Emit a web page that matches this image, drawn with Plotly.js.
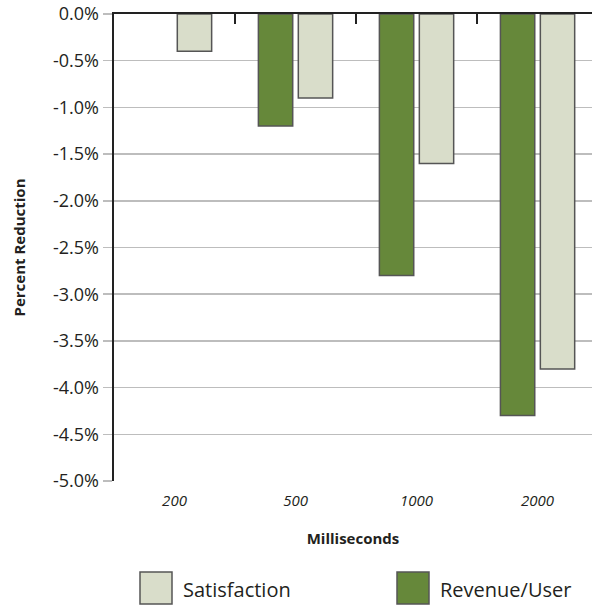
<!DOCTYPE html>
<html>
<head>
<meta charset="utf-8">
<script src="https://cdn.plot.ly/plotly-3.0.1.min.js"></script>
<style>
html,body{margin:0;padding:0;background:#fff;overflow:hidden;}
#chart{width:592px;height:606px;}
</style>
</head>
<body>
<div id="chart"></div>
<script>
var categories = ["200", "500", "1000", "2000"];
var revenueUser = [null, -1.2, -2.8, -4.3];
var satisfaction = [-0.4, -0.9, -1.6, -3.8];
var seriesNames = ["Revenue/User", "Satisfaction"];
var yTickVals = [0, -0.5, -1, -1.5, -2, -2.5, -3, -3.5, -4, -4.5, -5];
var yTickText = ["0.0%", "-0.5%", "-1.0%", "-1.5%", "-2.0%", "-2.5%", "-3.0%", "-3.5%", "-4.0%", "-4.5%", "-5.0%"];

var GREEN = "#66883a";
var GRAY = "#d9ddca";
var EDGE = "#555555";
var FONT = "Open Sans, sans-serif";

var traces = [
  {type: "bar", name: seriesNames[0], x: categories, y: revenueUser,
   marker: {color: GREEN, line: {color: EDGE, width: 1.5}}, hoverinfo: "x+y"},
  {type: "bar", name: seriesNames[1], x: categories, y: satisfaction,
   marker: {color: GRAY, line: {color: EDGE, width: 1.5}}, hoverinfo: "x+y"},
  {type: "scatter", mode: "none", x: categories, y: categories.map(function(){return null;}),
   xaxis: "x2", yaxis: "y", showlegend: false, hoverinfo: "skip"}
];

var legendOrder = [1, 0];
var legendColors = [GREEN, GRAY];
var legendBoxX = [140, 397];
var shapes = [], annotations = [];
legendOrder.forEach(function(idx, k){
  var x0 = legendBoxX[k];
  shapes.push({type: "rect", xref: "paper", yref: "paper",
    x0: (x0 - 114) / 478, x1: (x0 + 32 - 114) / 478,
    y0: -(572 - 481) / 467, y1: -(604 - 481) / 467,
    fillcolor: legendColors[idx], line: {color: EDGE, width: 1.5}});
  annotations.push({xref: "paper", yref: "paper",
    x: (x0 + 41 - 114) / 478, y: -(589 - 481) / 467,
    xanchor: "left", yanchor: "middle", showarrow: false,
    text: traces[idx].name, font: {family: FONT, size: 20, color: "#231f20"}});
});

var layout = {
  width: 592, height: 606,
  margin: {l: 114, r: 0, t: 14, b: 125, pad: 0},
  paper_bgcolor: "#fff", plot_bgcolor: "#fff",
  showlegend: false,
  barmode: "group", bargap: 0.34, bargroupgap: 0.14,
  font: {family: FONT, color: "#231f20"},
  xaxis: {
    type: "category", categoryarray: categories, range: [-0.5, 3.45],
    showline: false, showgrid: false, zeroline: false, ticks: "",
    tickfont: {family: FONT, size: 15, style: "italic", color: "#231f20"},
    ticklabelstandoff: 9,
    title: {text: "<b>Milliseconds</b>", font: {family: FONT, size: 15, color: "#231f20"}, standoff: 24}
  },
  xaxis2: {
    type: "category", categoryarray: categories, range: [-0.5, 3.45],
    overlaying: "x", side: "top", anchor: "y",
    showline: true, linecolor: "#222", linewidth: 2,
    ticks: "inside", tickson: "boundaries", ticklen: 10, tickwidth: 2, tickcolor: "#222",
    showticklabels: false, showgrid: false, zeroline: false
  },
  yaxis: {
    range: [-5, 0], tickvals: yTickVals, ticktext: yTickText,
    showgrid: true, gridcolor: "#bdbdbd", gridwidth: 1.5,
    ticks: "outside", ticklen: 9, tickcolor: "#bdbdbd", tickwidth: 1.5,
    showline: true, linecolor: "#222", linewidth: 2.5,
    zeroline: false,
    tickfont: {family: FONT, size: 18, color: "#231f20"},
    title: {text: "<b>Percent Reduction</b>", font: {family: FONT, size: 15, color: "#231f20"}, standoff: 24}
  },
  shapes: shapes,
  annotations: annotations
};

Plotly.newPlot("chart", traces, layout, {displayModeBar: false, staticPlot: true});
</script>
</body>
</html>
